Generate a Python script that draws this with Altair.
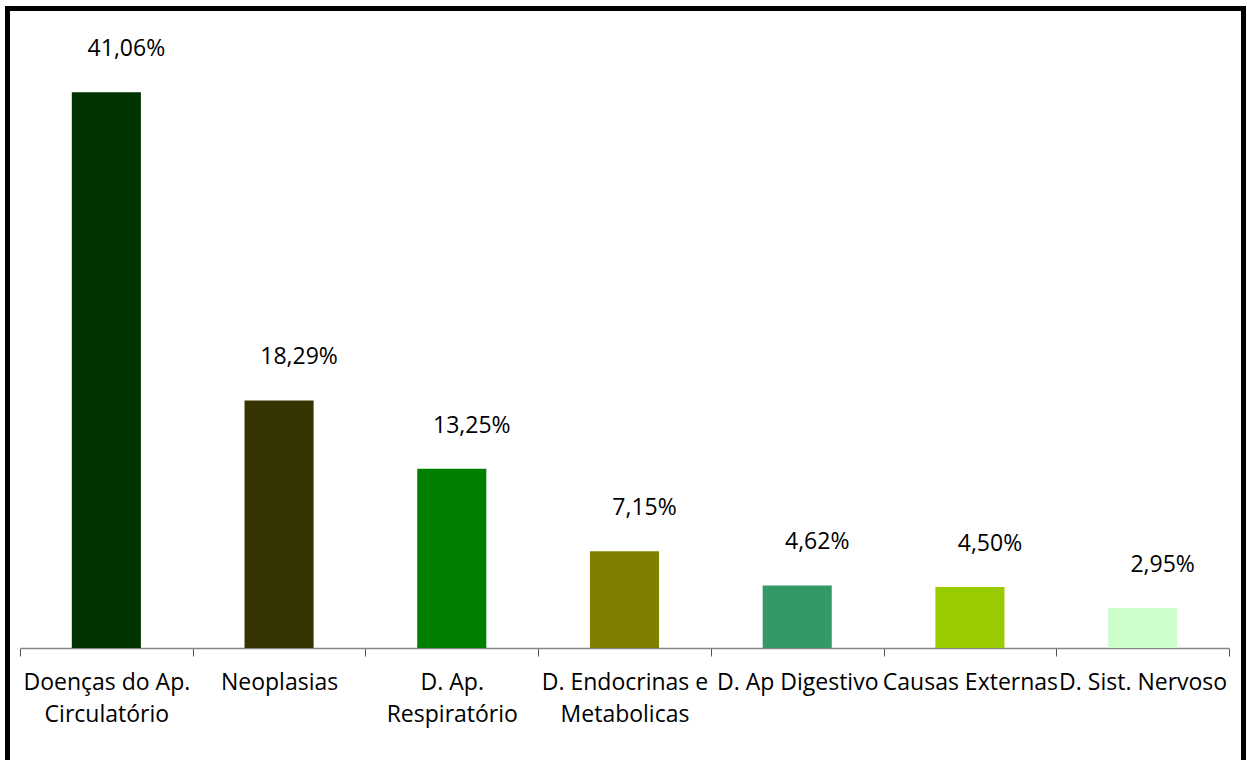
import altair as alt
import pandas as pd

# Leading causes of death, share of total (%)
causes = [
    "Doenças do Ap.\nCirculatório",
    "Neoplasias",
    "D. Ap.\nRespiratório",
    "D. Endocrinas e\nMetabolicas",
    "D. Ap Digestivo",
    "Causas Externas",
    "D. Sist. Nervoso",
]
shares = [41.06, 18.29, 13.25, 7.15, 4.62, 4.50, 2.95]
colors = ["#003300", "#363400", "#008000", "#808000", "#339966", "#99CC00", "#CCFFCC"]

df = pd.DataFrame({"causa": causes, "pct": shares})
df["rotulo"] = df["pct"].map(lambda v: f"{v:.2f}".replace(".", ",") + "%")

FONT = "Open Sans"

x = alt.X(
    "causa:N",
    sort=causes,
    title=None,
    scale=alt.Scale(paddingInner=0, paddingOuter=0),
    axis=alt.Axis(
        labelAngle=0,
        labelExpr="isValid(datum.value) ? split(datum.value, '\\n') : ''",
        labelFont=FONT,
        labelFontSize=23,
        labelColor="#000000",
        labelLineHeight=32,
        labelPadding=15,
        labelLimit=300,
        tickBand="extent",
        tickSize=8,
        tickColor="#555555",
        domainColor="#868686",
        domainWidth=1.5,
    ),
)
y = alt.Y("pct:Q", scale=alt.Scale(domain=[0, 45]), axis=None)

bars = alt.Chart(df).mark_bar(width=alt.RelativeBandSize(0.4)).encode(
    x=x,
    y=y,
    color=alt.Color("causa:N", sort=causes, scale=alt.Scale(domain=causes, range=colors), legend=None),
)

labels = alt.Chart(df).mark_text(
    font=FONT, fontSize=23, color="#000000", dx=20, dy=-43, baseline="middle"
).encode(x=x, y=y, text="rotulo:N")

# outer frame of the figure
frame = alt.Chart(df).mark_rect(
    fill=None, stroke="#000000", strokeWidth=5, clip=False
).encode(
    x=alt.value(-12.5), x2=alt.value(1223.5), y=alt.value(-30.5), y2=alt.value(735)
)

chart = (
    alt.layer(bars, labels, frame)
    .properties(
        width=1209,
        height=609,
        autosize=alt.AutoSizeParams(type="none"),
        padding={"left": 20, "top": 39, "right": 18, "bottom": 112},
        background="#ffffff",
    )
    .configure_view(stroke=None)
)

chart.save("out.html", embed_options={"renderer": "svg", "actions": False})
